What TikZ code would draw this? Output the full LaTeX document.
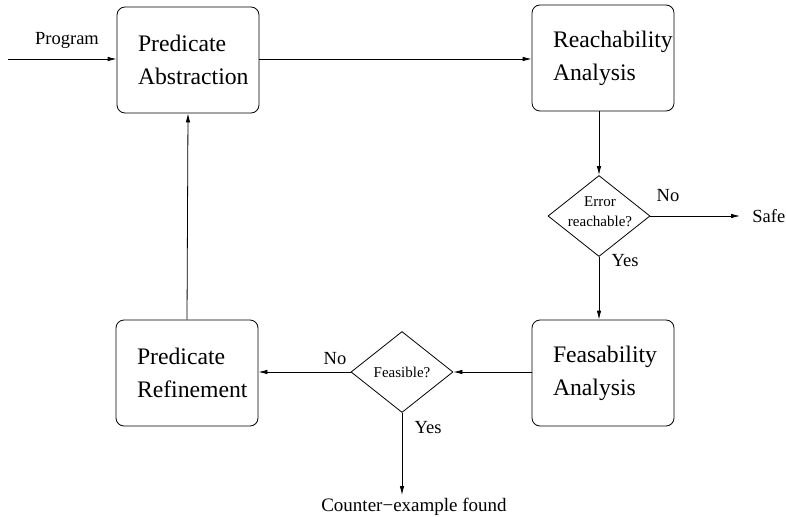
\documentclass[tikz,border=0pt]{standalone}
\usepackage{fontspec}
\setmainfont{Liberation Serif}
\newfontfamily\boxfont{Liberation Serif}
\usetikzlibrary{shapes.geometric,arrows.meta}
\begin{document}
\begin{tikzpicture}[x=1pt,y=-1pt,
  every path/.style={line width=0.8pt},
  procbox/.style={draw, rounded corners=8pt, minimum width=142pt, minimum height=106pt,
    text width=100pt, align=left, inner xsep=21pt, inner ysep=0pt,
    font=\boxfont\fontsize{23.7}{33}\selectfont},
  decision/.style={draw, diamond, minimum width=102pt, minimum height=81pt, inner sep=0pt},
  dtext/.style={font=\rmfamily\fontsize{15}{20}\selectfont, align=center},
  lbl/.style={font=\rmfamily\fontsize{18.5}{22}\selectfont, inner sep=0pt},
  flow/.style={-{Latex[length=9pt,width=4.5pt]}}
]
\useasboundingbox (0,0) rectangle (786,516);

\node[procbox] (b1) at (188,60) {Predicate\\Abstraction};
\node[procbox] (b2) at (603,58) {Reachability\\Analysis};
\node[procbox] (b3) at (603,373) {Feasability\\Analysis};
\node[procbox] (b4) at (187,373) {Predicate\\Refinement};

\node[decision] (d1) at (599,216) {};
\node[dtext] (d1t) at (600,212) {Error\\reachable?};
\node[decision] (d2) at (402,372) {};
\node[dtext] (d2t) at (402,372) {Feasible?};

\coordinate (pin) at (8,59);
\coordinate (safe) at (740,216);
\coordinate (cex) at (402,495);

\node[lbl] (prog) at (67,40) {Program};
\node[lbl, anchor=west] (safet) at (752,216) {Safe};
\node[lbl] (no1) at (668,196) {No};
\node[lbl] (yes1) at (625,261) {Yes};
\node[lbl] (no2) at (335,359) {No};
\node[lbl] (yes2) at (428,428) {Yes};
\node[font=\rmfamily\fontsize{19}{22}\selectfont, inner sep=0pt] (cext) at (414,507) {Counter−example found};

\draw[flow] (pin) -- (b1.west |- pin);
\draw[flow] (b1.east |- pin) -- (b2.west |- pin);
\draw[flow] (b2.south -| d1.north) -- (d1.north);
\draw[flow] (d1.east) -- (safe);
\draw[flow] (d1.south) -- (b3.north -| d1.south);
\draw[flow] (b3.west |- d2.east) -- (d2.east);
\draw[flow] (d2.west) -- (b4.east |- d2.west);
\draw[flow] (d2.south) -- (cex);
\draw[flow] (b4.north) -- (b1.south);
\end{tikzpicture}
\end{document}
